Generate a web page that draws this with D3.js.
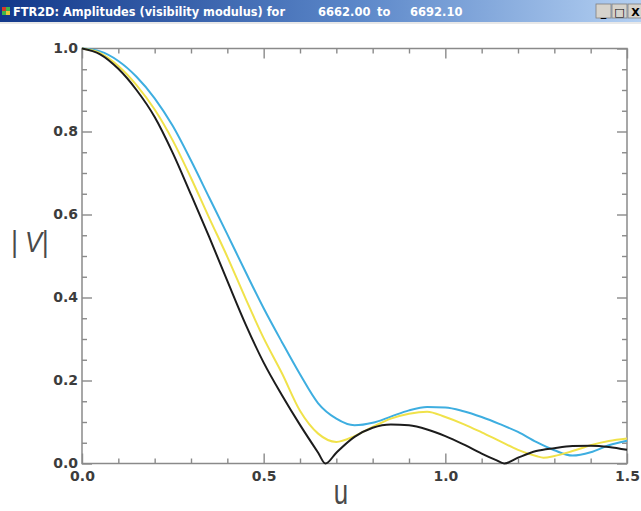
<!DOCTYPE html>
<html>
<head>
<meta charset="utf-8">
<title>FTR2D amplitudes</title>
<style>
  body { margin: 0; background: #fff; }
  svg { display: block; }
  .tick text { font-family: "DejaVu Sans", sans-serif; font-weight: bold; font-size: 14px; fill: #3c3c3c; }
  .tick line { stroke: #8a8a8a; stroke-width: 1.4; }
</style>
</head>
<body>
<script src="https://cdn.jsdelivr.net/npm/d3@7"></script>
<script>
// values
var blackU = [0, 0.05, 0.10, 0.15, 0.20, 0.25, 0.30, 0.35, 0.40, 0.45, 0.50, 0.55, 0.60, 0.65, 0.67,
              0.70, 0.75, 0.80, 0.85, 0.90, 0.95, 1.00, 1.05, 1.10, 1.14, 1.162, 1.20, 1.25, 1.30, 1.35, 1.40, 1.45, 1.50];
var blackV = [1.000, 0.986, 0.951, 0.900, 0.835, 0.748, 0.648, 0.546, 0.440, 0.336, 0.243, 0.165, 0.093, 0.026, 0.000,
              0.026, 0.064, 0.086, 0.094, 0.092, 0.082, 0.066, 0.046, 0.024, 0.008, 0.000, 0.014, 0.030, 0.037, 0.042, 0.043, 0.040, 0.033];

var yellowU = [0, 0.05, 0.10, 0.15, 0.20, 0.25, 0.30, 0.35, 0.40, 0.45, 0.50, 0.55, 0.60, 0.65, 0.70,
               0.75, 0.80, 0.85, 0.90, 0.95, 1.00, 1.05, 1.10, 1.15, 1.20, 1.25, 1.27, 1.30, 1.35, 1.40, 1.45, 1.50];
var yellowV = [1.000, 0.989, 0.958, 0.912, 0.853, 0.778, 0.688, 0.592, 0.498, 0.398, 0.302, 0.218, 0.127, 0.072, 0.052,
               0.066, 0.088, 0.108, 0.120, 0.125, 0.112, 0.095, 0.075, 0.054, 0.033, 0.018, 0.014, 0.018, 0.030, 0.044, 0.054, 0.060];

var blueU = [0, 0.05, 0.10, 0.15, 0.20, 0.25, 0.30, 0.35, 0.40, 0.45, 0.50, 0.55, 0.60, 0.65, 0.70,
             0.75, 0.80, 0.85, 0.90, 0.95, 1.00, 1.05, 1.10, 1.15, 1.20, 1.25, 1.30, 1.35, 1.40, 1.45, 1.50];
var blueV = [1.000, 0.993, 0.970, 0.932, 0.880, 0.813, 0.730, 0.641, 0.552, 0.462, 0.374, 0.293, 0.215, 0.145, 0.108,
             0.092, 0.098, 0.113, 0.128, 0.136, 0.135, 0.126, 0.112, 0.095, 0.076, 0.052, 0.032, 0.019, 0.027, 0.044, 0.055];

var xMajor = [0, 0.5, 1.0, 1.5];
var yMajor = [0, 0.2, 0.4, 0.6, 0.8, 1.0];

var titleText = "FTR2D: Amplitudes (visibility modulus) for";
var fromText = "6662.00", toWord = "to", toText = "6692.10";

var width = 641, height = 511;
var plotL = 82, plotR = 627, plotT = 48.5, plotB = 463.5;

var svg = d3.select("body").append("svg")
    .attr("width", width)
    .attr("height", height);

// window title bar
var grad = svg.append("defs").append("linearGradient")
    .attr("id", "bar").attr("x1", "0%").attr("x2", "100%");
grad.append("stop").attr("offset", "0%").attr("stop-color", "#12388a");
grad.append("stop").attr("offset", "55%").attr("stop-color", "#5a86c8");
grad.append("stop").attr("offset", "100%").attr("stop-color", "#b4d0f2");
svg.append("rect").attr("x", 0).attr("y", 0).attr("width", width).attr("height", 22).attr("fill", "url(#bar)");
svg.append("rect").attr("x", 0).attr("y", 22).attr("width", width).attr("height", 2).attr("fill", "#e8e8e8");

// small icon
svg.append("rect").attr("x", 2).attr("y", 7).attr("width", 4).attr("height", 4).attr("fill", "#d23a2a");
svg.append("rect").attr("x", 6).attr("y", 7).attr("width", 4).attr("height", 4).attr("fill", "#3fb64a");
svg.append("rect").attr("x", 2).attr("y", 11).attr("width", 4).attr("height", 4).attr("fill", "#3fb64a");
svg.append("rect").attr("x", 6).attr("y", 11).attr("width", 4).attr("height", 4).attr("fill", "#e6c93a");

var tt = svg.append("g")
    .style("font-family", "'DejaVu Sans', sans-serif")
    .style("font-weight", "bold")
    .style("font-size", "11.5px")
    .attr("fill", "#fff");
tt.append("text").attr("x", 13).attr("y", 16).attr("textLength", 272).attr("lengthAdjust", "spacingAndGlyphs").text(titleText);
tt.append("text").attr("x", 318).attr("y", 16).text(fromText);
tt.append("text").attr("x", 377).attr("y", 16).text(toWord);
tt.append("text").attr("x", 410).attr("y", 16).text(toText);

// window buttons
[{x: 596, t: "_"}, {x: 612, t: "□"}, {x: 628, t: "X"}].forEach(function (b) {
    svg.append("rect").attr("x", b.x).attr("y", 4).attr("width", 15).attr("height", 14)
        .attr("fill", "#d6d3cc").attr("stroke", "#7f7f7f").attr("stroke-width", 0.8);
    svg.append("text").attr("x", b.x + 7.5).attr("y", 15.5).attr("text-anchor", "middle")
        .style("font-family", "'DejaVu Sans', sans-serif").style("font-weight", "bold").style("font-size", "11px")
        .attr("fill", "#000").text(b.t);
});

var x = d3.scaleLinear().domain([0, 1.5]).range([plotL, plotR]);
var y = d3.scaleLinear().domain([0, 1]).range([plotB, plotT]);

var xMinor = d3.range(0, 1.5001, 0.1).filter(function (d) { return Math.abs(d * 2 - Math.round(d * 2)) > 1e-6; });
var yMinor = d3.range(0, 1.0001, 0.05).filter(function (d) { return Math.abs(d * 5 - Math.round(d * 5)) > 1e-6; });

function noDomain(g) { g.select(".domain").remove(); }

// bottom
svg.append("g").attr("transform", "translate(0," + plotB + ")")
    .call(d3.axisBottom(x).tickValues(xMajor).tickSize(-10).tickPadding(8).tickFormat(d3.format(".1f")))
    .call(noDomain);
svg.append("g").attr("transform", "translate(0," + plotB + ")")
    .call(d3.axisBottom(x).tickValues(xMinor).tickSize(-5).tickFormat(""))
    .call(noDomain);
// top
svg.append("g").attr("transform", "translate(0," + plotT + ")")
    .call(d3.axisTop(x).tickValues(xMajor).tickSize(-10).tickFormat(""))
    .call(noDomain);
svg.append("g").attr("transform", "translate(0," + plotT + ")")
    .call(d3.axisTop(x).tickValues(xMinor).tickSize(-5).tickFormat(""))
    .call(noDomain);
// left
svg.append("g").attr("transform", "translate(" + plotL + ",0)")
    .call(d3.axisLeft(y).tickValues(yMajor).tickSize(-10).tickPadding(4).tickFormat(d3.format(".1f")))
    .call(noDomain);
svg.append("g").attr("transform", "translate(" + plotL + ",0)")
    .call(d3.axisLeft(y).tickValues(yMinor).tickSize(-5).tickFormat(""))
    .call(noDomain);
// right
svg.append("g").attr("transform", "translate(" + plotR + ",0)")
    .call(d3.axisRight(y).tickValues(yMajor).tickSize(-10).tickFormat(""))
    .call(noDomain);
svg.append("g").attr("transform", "translate(" + plotR + ",0)")
    .call(d3.axisRight(y).tickValues(yMinor).tickSize(-5).tickFormat(""))
    .call(noDomain);

svg.append("rect")
    .attr("x", plotL).attr("y", plotT)
    .attr("width", plotR - plotL).attr("height", plotB - plotT)
    .attr("fill", "none").attr("stroke", "#8a8a8a").attr("stroke-width", 1.5);

var line = d3.line()
    .x(function (d) { return x(d[0]); })
    .y(function (d) { return y(d[1]); })
    .curve(d3.curveMonotoneX);

var series = [
    {u: blueU, v: blueV, color: "#3eaee0"},
    {u: yellowU, v: yellowV, color: "#f0e24a"},
    {u: blackU, v: blackV, color: "#1c1c1c"}
];
series.forEach(function (s) {
    svg.append("path")
        .datum(d3.zip(s.u, s.v))
        .attr("d", line)
        .attr("fill", "none")
        .attr("stroke", s.color)
        .attr("stroke-width", 2)
        .attr("stroke-linejoin", "round");
});

// axis titles
var yl = svg.append("text")
    .attr("transform", "translate(30,252) scale(0.85,1)")
    .attr("text-anchor", "middle")
    .style("font-family", "'Liberation Sans', sans-serif")
    .style("font-size", "30px")
    .attr("fill", "#4a4a4a");
yl.append("tspan").text("|");
yl.append("tspan").style("font-style", "italic").text(" V");
yl.append("tspan").text("|");

svg.append("text")
    .attr("transform", "translate(341,504) scale(0.74,1)")
    .attr("text-anchor", "middle")
    .style("font-family", "'Liberation Sans', sans-serif")
    .style("font-size", "35px")
    .attr("fill", "#4a4a4a")
    .text("u");
</script>
</body>
</html>
